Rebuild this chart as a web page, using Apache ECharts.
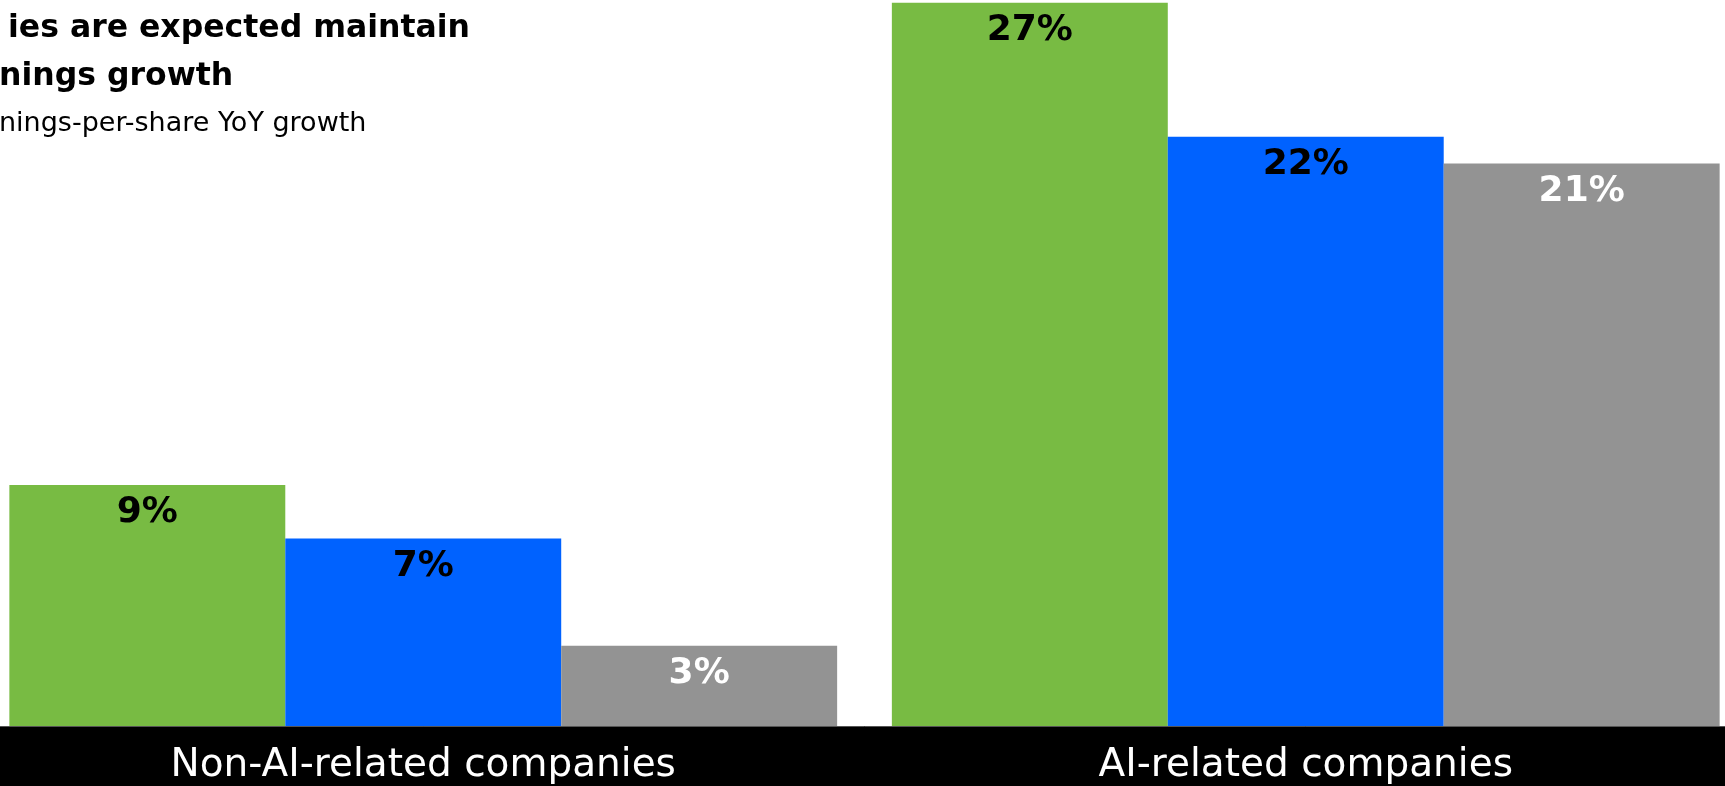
<!DOCTYPE html>
<html>
<head>
<meta charset="utf-8">
<style>
  html, body { margin: 0; padding: 0; background: #ffffff; overflow: hidden; width: 1725px; height: 786px; }
  /* the plot runs slightly past both edges of the page */
  #chart { position: absolute; left: -18px; top: 0; width: 1765px; height: 786px; }
</style>
<script src="https://cdn.jsdelivr.net/npm/echarts@6/dist/echarts.min.js"></script>
</head>
<body>
<div id="chart"></div>
<script>
// Company groups along the x axis
const categories = ['Non-AI-related companies', 'AI-related companies'];

// Earnings-per-share YoY growth (%) for the three periods
const seriesNames = ['Period 1', 'Period 2', 'Period 3'];
const growthPeriod1 = [9, 27];
const growthPeriod2 = [7, 22];
const growthPeriod3 = [3, 21];

// Heading lines (visible portion)
const titleLines = ['ies are expected maintain', 'nings growth'];
const subtitleText = 'nings-per-share YoY growth';

const colors = ['#78bb43', '#0062ff', '#939393'];
const labelColors = ['#000000', '#000000', '#ffffff'];
const seriesData = [growthPeriod1, growthPeriod2, growthPeriod3];

// horizontal shift of the chart div relative to the page
const shiftX = 18;

const chart = echarts.init(document.getElementById('chart'), null, { renderer: 'canvas' });

const series = seriesData.map((values, i) => ({
  name: seriesNames[i],
  type: 'bar',
  data: values,
  barGap: 0,
  barCategoryGap: '6.2%',
  itemStyle: { color: colors[i] },
  label: {
    show: true,
    position: 'insideTop',
    distance: 10,
    formatter: p => p.value + '%',
    color: labelColors[i],
    fontFamily: 'DejaVu Sans',
    fontWeight: 'bold',
    fontSize: 36
  },
  silent: true,
  animation: false
}));

chart.setOption({
  backgroundColor: '#ffffff',
  animation: false,
  grid: { left: 0, right: 0, top: 0, bottom: 60, containLabel: false },
  xAxis: {
    type: 'category',
    data: categories,
    axisLine: { show: true, lineStyle: { color: '#555555', width: 1 } },
    axisTick: { show: false },
    axisLabel: {
      color: '#ffffff',
      fontFamily: 'DejaVu Sans',
      fontSize: 39,
      margin: 20
    },
    z: 5
  },
  yAxis: {
    type: 'value',
    min: 0,
    max: 27.1,
    show: false,
    splitLine: { show: false }
  },
  graphic: {
    elements: [
      {
        type: 'rect',
        left: 0,
        bottom: 0,
        z: -10,
        shape: { width: 1765, height: 60 },
        style: { fill: '#000000' },
        silent: true
      },
      {
        type: 'text',
        left: shiftX + 8,
        top: 13,
        style: {
          text: titleLines[0],
          fill: '#000000',
          font: 'bold 31.5px "DejaVu Sans"'
        }
      },
      {
        type: 'text',
        left: shiftX - 1,
        top: 61,
        style: {
          text: titleLines[1],
          fill: '#000000',
          font: 'bold 31.5px "DejaVu Sans"'
        }
      },
      {
        type: 'text',
        left: shiftX - 1,
        top: 110,
        style: {
          text: subtitleText,
          fill: '#000000',
          font: '27px "DejaVu Sans"'
        }
      }
    ]
  },
  series: series
});
</script>
</body>
</html>
